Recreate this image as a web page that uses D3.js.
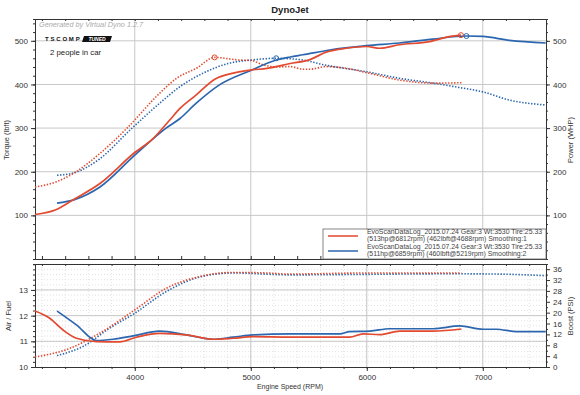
<html>
<head>
<script src="https://cdn.jsdelivr.net/npm/d3@7"></script>
<style>
  body { margin:0; background:#fff; }
  text { font-family: "Liberation Sans", Arial, sans-serif; }
  .grid line { stroke:#c8c8c8; stroke-width:1; }
  .minor line { stroke:#dcdcdc; stroke-width:0.8; stroke-dasharray:1,2; }
  .ax path, .ax line { stroke:#333; }
  .ax text { font-size:8px; fill:#333; }
  .solid { fill:none; stroke-width:1.7; }
  .dot { fill:none; stroke-width:1.6; stroke-dasharray:1.4,1.6; }
</style>
</head>
<body>
<script>
// dyno runs: red = Smoothing 1, blue = Smoothing 2
var redColor = "#e2492f", blueColor = "#2b66ae";

var redPwrRpm = [3140,3320,3470,3700,4000,4150,4300,4390,4530,4690,4850,5000,5140,5340,5510,5650,5820,6000,6110,6280,6540,6720,6812];
var redPwr    = [102,113,136,173,244,274,318,345,376,412,426,433,437,448,457,474,483,487,483,491,498,510,513];
var bluePwrRpm = [3330,3480,3700,4000,4270,4390,4530,4730,5000,5220,5340,5450,5680,6000,6280,6570,6859,7000,7230,7543];
var bluePwr    = [128,136,165,238,300,322,357,399,432,456,463,468,479,489,495,504,511,510,501,495];

var redTqRpm = [3140,3325,3470,3700,3930,4215,4360,4530,4688,4900,5000,5106,5220,5340,5450,5510,5650,5825,6000,6284,6572,6816];
var redTq    = [165,177,196,242,299,380,414,437,462,456,455,445,440,441,435,435,441,437,427,410,403,404];
var blueTqRpm = [3330,3470,3700,3957,4215,4390,4590,4820,5006,5219,5450,5630,6000,6284,6572,6773,7000,7233,7543];
var blueTq    = [192,197,230,295,357,395,426,449,456,460,456,445,429,414,403,394,383,364,353];

var redAfrRpm = [3140,3267,3382,3497,3670,3871,4014,4215,4445,4675,4848,5020,5336,5767,5853,5968,6112,6284,6572,6816];
var redAfr    = [12.18,11.9,11.44,11.12,10.99,10.98,11.16,11.31,11.25,11.08,11.12,11.18,11.16,11.16,11.16,11.29,11.26,11.40,11.40,11.48];
var blueAfrRpm = [3330,3497,3670,3813,3986,4215,4445,4675,4848,5020,5336,5767,5853,6026,6198,6572,6802,7003,7117,7290,7543];
var blueAfr    = [12.18,11.64,11.03,11.08,11.21,11.40,11.25,11.08,11.16,11.25,11.29,11.29,11.38,11.40,11.49,11.49,11.6,11.47,11.47,11.38,11.38];

var redBoostRpm = [3140,3411,3700,4000,4273,4560,4848,5135,5336,5997,6816];
var redBoost    = [3.7,6.4,12.5,21,29,33.3,34.8,34.6,34.2,34.6,34.6];
var blueBoostRpm = [3330,3555,3784,4000,4273,4560,4848,5336,6743,7117,7543];
var blueBoost    = [4.2,7.6,14.3,19.8,27.8,33.1,34.6,33.9,34.3,34.2,33.6];

var rpmTicks = [4000,5000,6000,7000];
var powerTicks = [100,200,300,400,500];
var afrTicks = [10,11,12,13];
var boostTicks = [0,4,8,12,16,20,24,28,32,36];

var legendLines = [
  ["EvoScanDataLog_2015.07.24 Gear:3 Wt:3530 Tire:25.33", "(513hp@6812rpm) (462lbft@4688rpm) Smoothing:1"],
  ["EvoScanDataLog_2015.07.24 Gear:3 Wt:3530 Tire:25.33", "(511hp@6859rpm) (460lbft@5219rpm) Smoothing:2"]
];

var W = 580, H = 395;
var svg = d3.select("body").append("svg").attr("width", W).attr("height", H);

var left = 35, right = 546;
var upTop = 19, upBot = 259, loTop = 264, loBot = 367;

var x = d3.scaleLinear().domain([3140, 7545]).range([left, right]);
var yUp = d3.scaleLinear().domain([0, 550]).range([upBot, upTop]);
var yAfr = d3.scaleLinear().domain([10, 14.01]).range([loBot, loTop]);
var yBoost = d3.scaleLinear().domain([0, 37.9]).range([loBot, loTop]);

function zip(a, b) { return a.map(function(v, i) { return [v, b[i]]; }); }

// title
svg.append("text").attr("x", 290).attr("y", 13).attr("text-anchor", "middle")
  .style("font-size", "9.5px").style("font-weight", "bold").style("fill", "#222").text("DynoJet");

// ---------- upper panel ----------
var up = svg.append("g");
up.append("g").attr("class", "grid")
  .selectAll("line").data(powerTicks).enter().append("line")
  .attr("x1", left).attr("x2", right).attr("y1", yUp).attr("y2", yUp);
up.append("g").attr("class", "grid")
  .selectAll("line").data(rpmTicks).enter().append("line")
  .attr("y1", upTop).attr("y2", upBot).attr("x1", x).attr("x2", x);

// axes upper
var minorUp = d3.range(0, 551, 20);
up.append("g").attr("class", "ax").attr("transform", "translate(" + left + ",0)")
  .call(d3.axisLeft(yUp).tickValues(minorUp).tickSize(2).tickFormat(""));
up.append("g").attr("class", "ax").attr("transform", "translate(" + left + ",0)")
  .call(d3.axisLeft(yUp).tickValues(powerTicks).tickSize(4).tickSizeOuter(0).tickFormat(d3.format("d")));
up.append("g").attr("class", "ax").attr("transform", "translate(" + right + ",0)")
  .call(d3.axisRight(yUp).tickValues(minorUp).tickSize(2).tickFormat(""));
up.append("g").attr("class", "ax").attr("transform", "translate(" + right + ",0)")
  .call(d3.axisRight(yUp).tickValues(powerTicks).tickSize(4).tickSizeOuter(0).tickFormat(d3.format("d")));
var minorRpm = d3.range(3200, 7545, 200);
up.append("g").attr("class", "ax").attr("transform", "translate(0," + upBot + ")")
  .call(d3.axisTop(x).tickValues(minorRpm).tickSize(3).tickFormat("").tickSizeOuter(0));
up.append("g").attr("class", "ax").attr("transform", "translate(0," + upTop + ")")
  .call(d3.axisBottom(x).tickValues(minorRpm).tickSize(2).tickFormat("").tickSizeOuter(0))
  .select("path").attr("stroke", "#999");

var lineUp = d3.line().x(function(d) { return x(d[0]); }).y(function(d) { return yUp(d[1]); })
  .curve(d3.curveMonotoneX);

up.append("path").attr("class", "dot").attr("stroke", blueColor).attr("d", lineUp(zip(blueTqRpm, blueTq)));
up.append("path").attr("class", "dot").attr("stroke", redColor).attr("d", lineUp(zip(redTqRpm, redTq)));
up.append("path").attr("class", "solid").attr("stroke", blueColor).attr("d", lineUp(zip(bluePwrRpm, bluePwr)));
up.append("path").attr("class", "solid").attr("stroke", redColor).attr("d", lineUp(zip(redPwrRpm, redPwr)));

// peak markers
var peaks = [[4688, 462, redColor], [5219, 460, blueColor], [6812, 513, redColor], [6859, 511, blueColor]];
up.selectAll("circle.pk").data(peaks).enter().append("circle")
  .attr("cx", function(d) { return x(d[0]); }).attr("cy", function(d) { return yUp(d[1]); })
  .attr("r", 2.5).attr("fill", "none").attr("stroke", function(d) { return d[2]; }).attr("stroke-width", 1);

// watermark and logo
svg.append("text").attr("x", 39).attr("y", 27).style("font-size", "7.3px").style("font-style", "italic")
  .style("fill", "#aaa").text("Generated by Virtual Dyno 1.2.7");
svg.append("text").attr("x", 45).attr("y", 41).style("font-size", "6px").style("font-weight", "bold")
  .style("letter-spacing", "1.8px").style("fill", "#111").text("TSCOMP");
svg.append("path").attr("d", "M84,36 L112,36 L110,42 L82,42 Z").attr("fill", "#111");
svg.append("text").attr("x", 97).attr("y", 41).attr("text-anchor", "middle").style("font-size", "5px")
  .style("font-style", "italic").style("font-weight", "bold").style("fill", "#fff").text("TUNED");
svg.append("text").attr("x", 50).attr("y", 55).style("font-size", "7.8px").style("fill", "#222")
  .text("2 people in car");

// legend
var lg = svg.append("g");
lg.append("rect").attr("x", 323).attr("y", 229).attr("width", 223).attr("height", 30)
  .attr("fill", "#fff").attr("stroke", "#666").attr("stroke-width", 0.8);
[redColor, blueColor].forEach(function(c, i) {
  var yy = 236 + i * 15;
  lg.append("line").attr("x1", 328).attr("x2", 358).attr("y1", yy).attr("y2", yy)
    .attr("stroke", c).attr("stroke-width", 1.5);
  legendLines[i].forEach(function(t, j) {
    lg.append("text").attr("x", 367).attr("y", 234 + i * 15 + j * 7.4)
      .style("font-size", "6.9px").style("fill", "#444").text(t);
  });
});

// ---------- lower panel ----------
var lo = svg.append("g");
lo.append("g").attr("class", "minor").selectAll("line").data(d3.range(10.2, 14, 0.2)).enter().append("line")
  .attr("x1", left).attr("x2", right).attr("y1", yAfr).attr("y2", yAfr);
lo.append("g").attr("class", "minor").selectAll("line").data(minorRpm).enter().append("line")
  .attr("y1", loTop).attr("y2", loBot).attr("x1", x).attr("x2", x);
lo.append("g").attr("class", "grid").selectAll("line").data([11, 12, 13]).enter().append("line")
  .attr("x1", left).attr("x2", right).attr("y1", yAfr).attr("y2", yAfr);
lo.append("g").attr("class", "grid").selectAll("line").data(rpmTicks).enter().append("line")
  .attr("y1", loTop).attr("y2", loBot).attr("x1", x).attr("x2", x);

lo.append("g").attr("class", "ax").attr("transform", "translate(" + left + ",0)")
  .call(d3.axisLeft(yAfr).tickValues(d3.range(10, 14.01, 0.2)).tickSize(2).tickFormat(""));
lo.append("g").attr("class", "ax").attr("transform", "translate(" + left + ",0)")
  .call(d3.axisLeft(yAfr).tickValues(afrTicks).tickSize(4).tickSizeOuter(0).tickFormat(d3.format("d")));
lo.append("g").attr("class", "ax").attr("transform", "translate(" + right + ",0)")
  .call(d3.axisRight(yBoost).tickValues(d3.range(2, 38, 4)).tickSize(2).tickFormat(""));
lo.append("g").attr("class", "ax").attr("transform", "translate(" + right + ",0)")
  .call(d3.axisRight(yBoost).tickValues(boostTicks).tickSize(4).tickSizeOuter(0).tickFormat(d3.format("d")));
lo.append("g").attr("class", "ax").attr("transform", "translate(0," + loBot + ")")
  .call(d3.axisBottom(x).tickValues(minorRpm).tickSize(2).tickFormat("").tickSizeOuter(0));
lo.append("g").attr("class", "ax").attr("transform", "translate(0," + loBot + ")")
  .call(d3.axisBottom(x).tickValues(rpmTicks).tickSize(4).tickSizeOuter(0).tickFormat(d3.format("d")));
lo.append("g").attr("class", "ax").attr("transform", "translate(0," + loTop + ")")
  .call(d3.axisBottom(x).tickValues(minorRpm).tickSize(2).tickFormat("").tickSizeOuter(0))
  .select("path").attr("stroke", "#999");

var lineAfr = d3.line().x(function(d) { return x(d[0]); }).y(function(d) { return yAfr(d[1]); })
  .curve(d3.curveMonotoneX);
var lineBoost = d3.line().x(function(d) { return x(d[0]); }).y(function(d) { return yBoost(d[1]); })
  .curve(d3.curveMonotoneX);

lo.append("path").attr("class", "dot").attr("stroke", blueColor).attr("d", lineBoost(zip(blueBoostRpm, blueBoost)));
lo.append("path").attr("class", "dot").attr("stroke", redColor).attr("d", lineBoost(zip(redBoostRpm, redBoost)));
lo.append("path").attr("class", "solid").attr("stroke", blueColor).attr("d", lineAfr(zip(blueAfrRpm, blueAfr)));
lo.append("path").attr("class", "solid").attr("stroke", redColor).attr("d", lineAfr(zip(redAfrRpm, redAfr)));

// axis titles
function vLabel(tx, ty, rot, t) {
  svg.append("text").attr("transform", "translate(" + tx + "," + ty + ") rotate(" + rot + ")")
    .attr("text-anchor", "middle").style("font-size", "7.5px").style("fill", "#333").text(t);
}
vLabel(9, 140, -90, "Torque (lbft)");
vLabel(573, 140, -90, "Power (WHP)");
vLabel(11, 316, -90, "Air / Fuel");
vLabel(573, 316, -90, "Boost (PSI)");
svg.append("text").attr("x", 290).attr("y", 389).attr("text-anchor", "middle")
  .style("font-size", "7px").style("fill", "#333").text("Engine Speed (RPM)");
</script>
</body>
</html>
